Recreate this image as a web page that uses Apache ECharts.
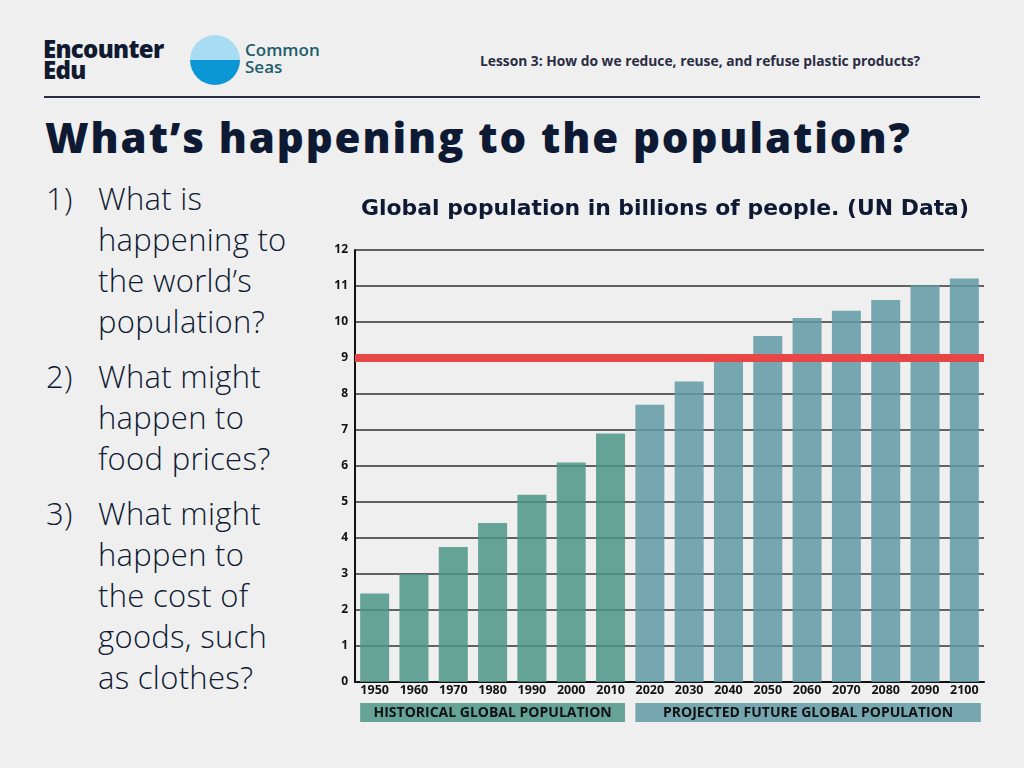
<!DOCTYPE html>
<html lang="en">
<head>
    <meta charset="UTF-8">
    <title>What's happening to the population?</title>
    <script src="https://cdn.jsdelivr.net/npm/echarts@6/dist/echarts.min.js"></script>
    <style>
        html, body {
            margin: 0;
            padding: 0;
            background: #efefef;
        }
        #slide {
            position: relative;
            width: 1024px;
            height: 768px;
            overflow: hidden;
            font-family: "Open Sans", Lato, sans-serif;
            color: #0e1a33;
        }
        #chart {
            position: absolute;
            left: 0;
            top: 0;
            width: 1024px;
            height: 768px;
        }
        .brand {
            position: absolute;
            left: 43px;
            top: 38px;
            font-weight: 800;
            font-size: 24px;
            line-height: 21px;
            letter-spacing: -0.7px;
            color: #101a30;
        }
        .logo {
            position: absolute;
            left: 190px;
            top: 35px;
            width: 50px;
            height: 50px;
            border-radius: 50%;
            overflow: hidden;
            background: linear-gradient(#a8dcf2 0, #a8dcf2 50%, #0b96d5 50%, #0b96d5 100%);
        }
        .seas {
            position: absolute;
            left: 245px;
            top: 41px;
            font-weight: 600;
            font-size: 17px;
            line-height: 17px;
            color: #1e5d6d;
        }
        .lesson {
            position: absolute;
            left: 480px;
            top: 51px;
            font-weight: 700;
            font-size: 13.8px;
            color: #2a2c44;
        }
        .rule {
            position: absolute;
            left: 44px;
            top: 96px;
            width: 936px;
            height: 2px;
            background: #2b2d45;
        }
        h1 {
            position: absolute;
            left: 45px;
            top: 108px;
            margin: 0;
            font-size: 42px;
            font-weight: 800;
            letter-spacing: 1.9px;
            color: #0e1a33;
        }
        .q {
            position: absolute;
            left: 46px;
            font-size: 31px;
            font-weight: 300;
            line-height: 41px;
            letter-spacing: 0.3px;
            color: #0e1a33;
        }
        .q span {
            position: absolute;
            left: 0;
            top: 0;
        }
        .q div {
            margin-left: 52px;
            width: 240px;
        }
    </style>
</head>
<body>
<div id="slide">
    <div class="brand">Encounter<br>Edu</div>
    <div class="logo"></div>
    <div class="seas">Common<br>Seas</div>
    <div class="lesson">Lesson 3: How do we reduce, reuse, and refuse plastic products?</div>
    <div class="rule"></div>
    <h1>What’s happening to the population?</h1>
    <div class="q" style="top:178px"><span>1)</span><div>What is<br>happening to<br>the world’s<br>population?</div></div>
    <div class="q" style="top:356px"><span>2)</span><div>What might<br>happen to<br>food prices?</div></div>
    <div class="q" style="top:493px"><span>3)</span><div>What might<br>happen to<br>the cost of<br>goods, such<br>as clothes?</div></div>
    <div id="chart"></div>
</div>

<script>
    // 数据
    var years = ['1950', '1960', '1970', '1980', '1990', '2000', '2010', '2020',
        '2030', '2040', '2050', '2060', '2070', '2080', '2090', '2100'];
    var population = [2.46, 3.0, 3.75, 4.42, 5.2, 6.1, 6.9, 7.7,
        8.35, 8.94, 9.61, 10.11, 10.31, 10.61, 11.02, 11.21];
    var historicalCount = 7;   // 1950-2010
    var yTicks = [0, 1, 2, 3, 4, 5, 6, 7, 8, 9, 10, 11, 12];
    var threshold = 9;
    var bandLabels = ['HISTORICAL GLOBAL POPULATION', 'PROJECTED FUTURE GLOBAL POPULATION'];

    var histColor = '#4b9586';
    var projColor = '#6099a5';
    var histBand = '#64a396';
    var projBand = '#76a6b0';
    var red = '#e84848';
    var font = 'Open Sans';

    var chart = echarts.init(document.getElementById('chart'), null, {renderer: 'canvas'});

    var option = {
        backgroundColor: 'transparent',
        animation: false,
        title: {
            text: 'Global population in billions of people. (UN Data)',
            left: 660,
            top: 193,
            textAlign: 'center',
            textStyle: {
                fontFamily: 'DejaVu Sans',
                fontWeight: 700,
                fontSize: 21.9,
                color: '#0e1a33'
            }
        },
        grid: {
            left: 355,
            right: 40,
            top: 250,
            bottom: 86
        },
        xAxis: {
            type: 'category',
            data: years,
            axisLine: {lineStyle: {color: '#111', width: 2}},
            axisTick: {show: false},
            axisLabel: {
                margin: 2,
                fontFamily: font,
                fontWeight: 700,
                fontSize: 12.5,
                color: '#111'
            }
        },
        yAxis: {
            type: 'value',
            min: yTicks[0],
            max: yTicks[yTicks.length - 1],
            interval: 1,
            axisLine: {show: true, lineStyle: {color: '#111', width: 2}},
            axisTick: {show: false},
            axisLabel: {
                margin: 7,
                fontFamily: font,
                fontWeight: 700,
                fontSize: 12,
                color: '#111'
            },
            splitLine: {lineStyle: {color: '#333', width: 1.6}}
        },
        series: [
            {
                // red line under the bars
                type: 'line',
                z: 1,
                data: [],
                silent: true,
                markLine: {
                    symbol: 'none',
                    silent: true,
                    label: {show: false},
                    lineStyle: {color: red, width: 8, type: 'solid'},
                    data: [{yAxis: threshold}]
                }
            },
            {
                type: 'bar',
                z: 2,
                data: population,
                barWidth: 29,
                itemStyle: {
                    opacity: 0.85,
                    color: function (p) {
                        return p.dataIndex < historicalCount ? histColor : projColor;
                    }
                }
            },
            {
                // faint red on top of the bars
                type: 'line',
                z: 3,
                data: [],
                silent: true,
                markLine: {
                    symbol: 'none',
                    silent: true,
                    label: {show: false},
                    lineStyle: {color: red, width: 8, type: 'solid', opacity: 0.38},
                    data: [{yAxis: threshold}]
                }
            }
        ]
    };

    chart.setOption(option);

    // 底部分组标签，位置取自类目轴
    function bandGraphic() {
        var half = 29 / 2;
        var groups = [
            [0, historicalCount - 1, histBand],
            [historicalCount, years.length - 1, projBand]
        ];
        var els = [];
        groups.forEach(function (g, i) {
            var x0 = chart.convertToPixel({xAxisIndex: 0}, years[g[0]]) - half;
            var x1 = chart.convertToPixel({xAxisIndex: 0}, years[g[1]]) + half;
            if (i === 1) x1 += 2;
            els.push({
                type: 'rect',
                shape: {x: x0, y: 703, width: x1 - x0, height: 19},
                style: {fill: g[2]}
            });
            els.push({
                type: 'text',
                x: (x0 + x1) / 2,
                y: 713,
                style: {
                    text: bandLabels[i],
                    fontFamily: font,
                    fontWeight: 700,
                    fontSize: 14,
                    fill: '#111',
                    align: 'center',
                    verticalAlign: 'middle'
                }
            });
        });
        return els;
    }

    chart.setOption({graphic: {elements: bandGraphic()}});
</script>
</body>
</html>
